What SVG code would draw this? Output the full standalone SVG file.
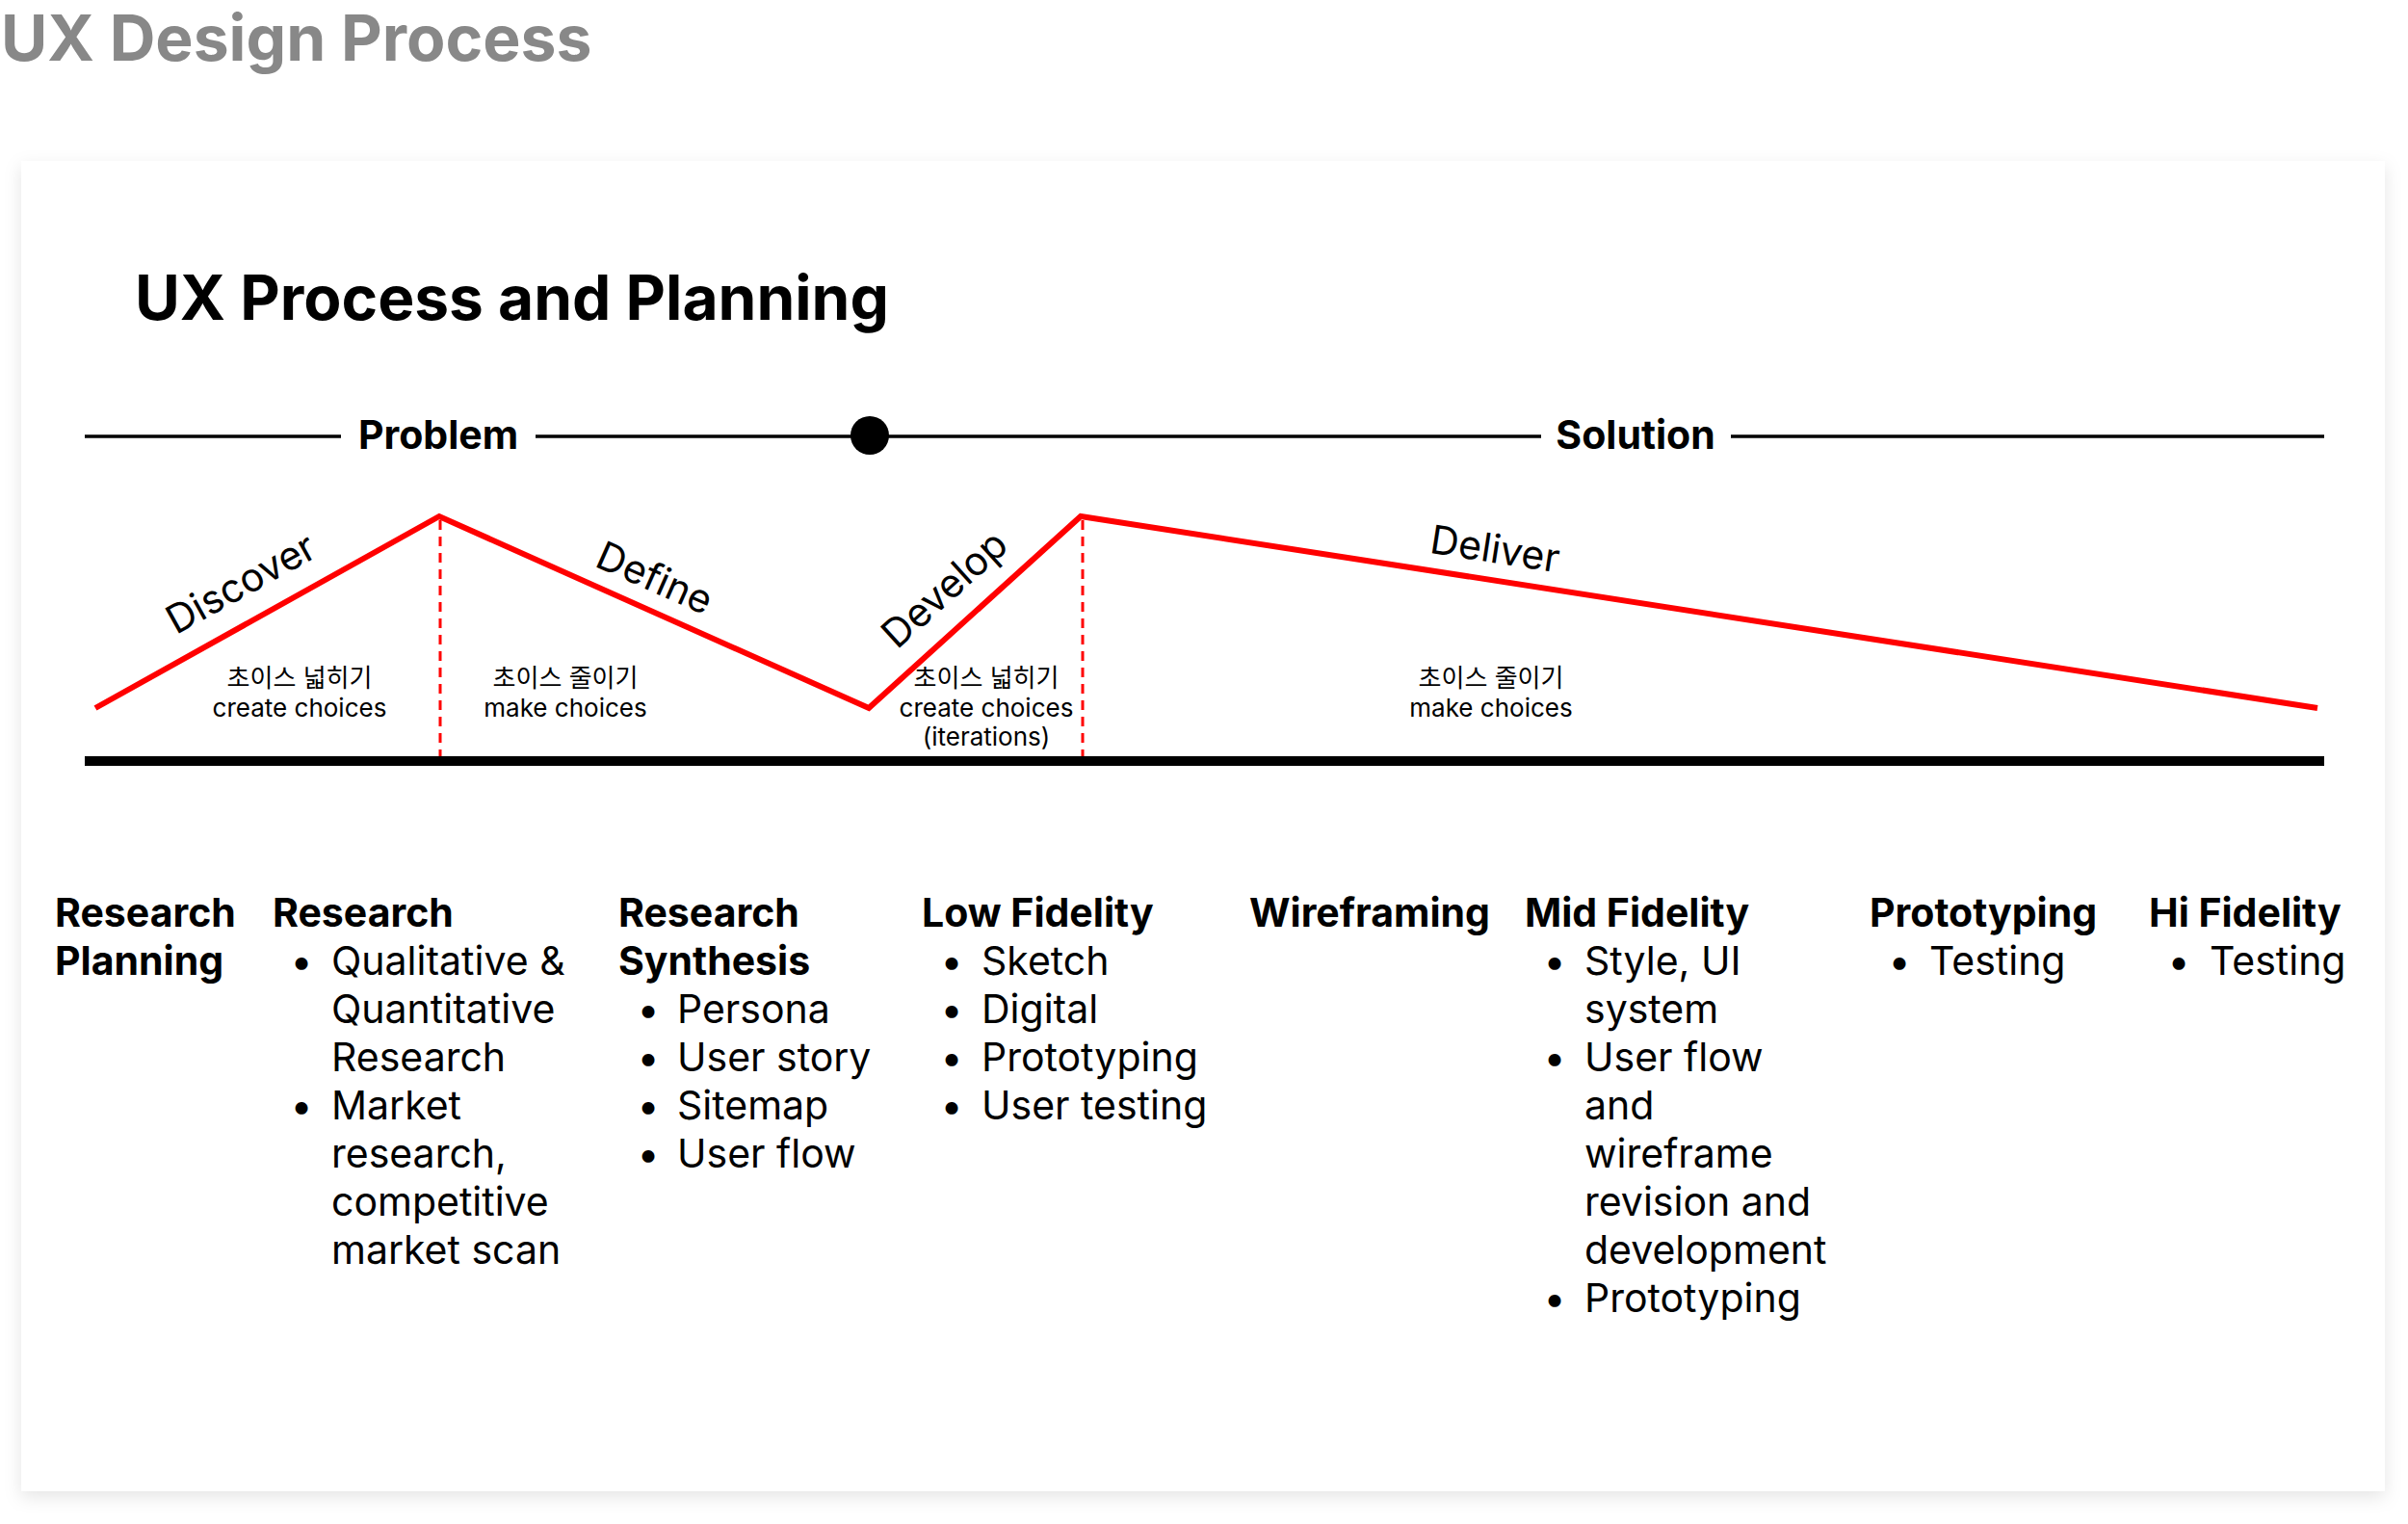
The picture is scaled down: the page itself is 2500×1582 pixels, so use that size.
<svg xmlns="http://www.w3.org/2000/svg" width="2500" height="1582" viewBox="0 0 2500 1582">
<defs>
<style>
text{font-family:"Inter","Noto Sans","Noto Sans CJK KR",sans-serif;fill:#000}
.title{font-size:66px;font-weight:700;fill:#888888}
.h1{font-size:64px;font-weight:700}
.ps{font-size:41px;font-weight:700}
.phase{font-size:41px;font-weight:400}
.small{font-size:26px;font-weight:400;text-anchor:middle}
.head{font-size:41px;font-weight:700}
.item{font-size:41px;font-weight:400}
.bul{font-size:41px;font-weight:400;text-anchor:middle}
.axis{stroke:#000;stroke-width:3.5;fill:none}
.red{stroke:#ff0000;stroke-width:6;fill:none;stroke-linejoin:miter}
.dash{stroke:#ff0000;stroke-width:3;stroke-dasharray:10 7;fill:none}
</style>
<filter id="sh" x="-5%" y="-5%" width="110%" height="112%">
<feDropShadow dx="0" dy="6" stdDeviation="9" flood-color="#000" flood-opacity="0.10"/>
</filter>
</defs>
<rect width="2500" height="1582" fill="#ffffff"/>
<text class="title" x="1" y="63">UX Design Process</text>
<rect x="22" y="167" width="2454" height="1381" fill="#ffffff" filter="url(#sh)"/>
<g id="heading"><text class="h1" x="140" y="332">UX Process and Planning</text></g>
<g id="connectors">
<line class="axis" x1="88" y1="453" x2="354" y2="453"/>
<line class="axis" x1="556" y1="453" x2="1600" y2="453"/>
<line class="axis" x1="1797" y1="453" x2="2413" y2="453"/>
<polyline class="red" points="99,735 456,536 902,735 1122,536 2406,735"/>
<line class="dash" x1="457" y1="540" x2="457" y2="785"/>
<line class="dash" x1="1124" y1="540" x2="1124" y2="785"/>
<line x1="88" y1="790" x2="2413" y2="790" stroke="#000" stroke-width="10"/>
</g>
<g id="midpoint"><circle cx="903" cy="452" r="20" fill="#000"/></g>
<g id="problem"><text class="ps" x="455" y="466" text-anchor="middle">Problem</text></g>
<g id="solution"><text class="ps" x="1698" y="466" text-anchor="middle">Solution</text></g>
<g id="discover"><text class="phase" text-anchor="middle" transform="translate(257,618) rotate(-29.1)">Discover</text>
<text class="small" x="311" y="713">초이스 넓히기</text><text class="small" x="311" y="744">create choices</text></g>
<g id="define"><text class="phase" text-anchor="middle" transform="translate(674,613) rotate(24)">Define</text>
<text class="small" x="587" y="713">초이스 줄이기</text><text class="small" x="587" y="744">make choices</text></g>
<g id="develop"><text class="phase" text-anchor="middle" transform="translate(990,622) rotate(-42.1)">Develop</text>
<text class="small" x="1024" y="713">초이스 넓히기</text><text class="small" x="1024" y="744">create choices</text><text class="small" x="1024" y="774">(iterations)</text></g>
<g id="deliver"><text class="phase" text-anchor="middle" transform="translate(1550,584) rotate(8.8)">Deliver</text>
<text class="small" x="1548" y="713">초이스 줄이기</text><text class="small" x="1548" y="744">make choices</text></g>
<g id="col-research-planning"><text class="head" x="57" y="962">Research</text><text class="head" x="57" y="1012">Planning</text></g>
<g id="col-research"><text class="head" x="283" y="962">Research</text>
<text class="bul" x="313" y="1012">•</text><text class="item" x="344" y="1012">Qualitative &amp;</text>
<text class="item" x="344" y="1062">Quantitative</text>
<text class="item" x="344" y="1112">Research</text>
<text class="bul" x="313" y="1162">•</text><text class="item" x="344" y="1162">Market</text>
<text class="item" x="344" y="1212">research,</text>
<text class="item" x="344" y="1262">competitive</text>
<text class="item" x="344" y="1312">market scan</text></g>
<g id="col-research-synthesis"><text class="head" x="642" y="962">Research</text><text class="head" x="642" y="1012">Synthesis</text>
<text class="bul" x="673" y="1062">•</text><text class="item" x="703" y="1062">Persona</text>
<text class="bul" x="673" y="1112">•</text><text class="item" x="703" y="1112">User story</text>
<text class="bul" x="673" y="1162">•</text><text class="item" x="703" y="1162">Sitemap</text>
<text class="bul" x="673" y="1212">•</text><text class="item" x="703" y="1212">User flow</text></g>
<g id="col-low-fidelity"><text class="head" x="957" y="962">Low Fidelity</text>
<text class="bul" x="988" y="1012">•</text><text class="item" x="1019" y="1012">Sketch</text>
<text class="bul" x="988" y="1062">•</text><text class="item" x="1019" y="1062">Digital</text>
<text class="bul" x="988" y="1112">•</text><text class="item" x="1019" y="1112">Prototyping</text>
<text class="bul" x="988" y="1162">•</text><text class="item" x="1019" y="1162">User testing</text></g>
<g id="col-wireframing"><text class="head" x="1297" y="962">Wireframing</text></g>
<g id="col-mid-fidelity"><text class="head" x="1583" y="962">Mid Fidelity</text>
<text class="bul" x="1614" y="1012">•</text><text class="item" x="1645" y="1012">Style, UI</text>
<text class="item" x="1645" y="1062">system</text>
<text class="bul" x="1614" y="1112">•</text><text class="item" x="1645" y="1112">User flow</text>
<text class="item" x="1645" y="1162">and</text>
<text class="item" x="1645" y="1212">wireframe</text>
<text class="item" x="1645" y="1262">revision and</text>
<text class="item" x="1645" y="1312">development</text>
<text class="bul" x="1614" y="1362">•</text><text class="item" x="1645" y="1362">Prototyping</text></g>
<g id="col-prototyping"><text class="head" x="1941" y="962">Prototyping</text>
<text class="bul" x="1972" y="1012">•</text><text class="item" x="2003" y="1012">Testing</text></g>
<g id="col-hi-fidelity"><text class="head" x="2231" y="962">Hi Fidelity</text>
<text class="bul" x="2262" y="1012">•</text><text class="item" x="2294" y="1012">Testing</text></g>
</svg>
